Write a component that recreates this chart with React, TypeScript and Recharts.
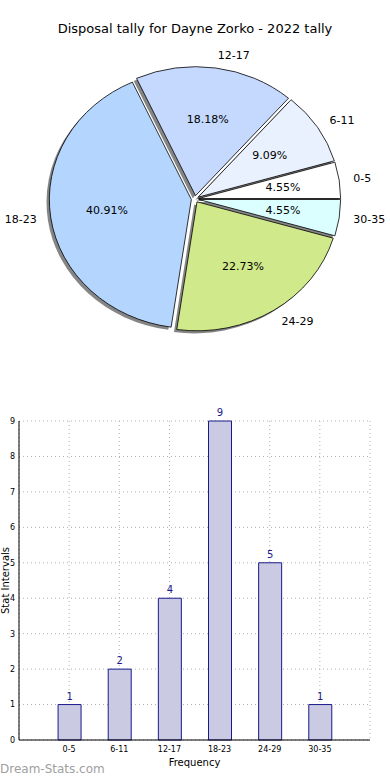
import { PieChart, Pie, BarChart, Bar, XAxis, YAxis, CartesianGrid, LabelList } from 'recharts'

const categories = ['0-5', '6-11', '12-17', '18-23', '24-29', '30-35']
const counts = [1, 2, 4, 9, 5, 1]
const sliceColors = ['#ffffff', '#e9f0fe', '#c5d9fe', '#b4d6fe', '#d0ea8b', '#dbffff']
const yTicks = [0, 1, 2, 3, 4, 5, 6, 7, 8, 9]
const xTicks = [0, 1, 2, 3, 4, 5]

const pieData = categories.map((name, i) => ({ name, value: counts[i], fill: sliceColors[i] }))
const barData = categories.map((name, i) => ({ idx: i, name, value: counts[i] }))

const FONT = '"DejaVu Sans", sans-serif'
// pie is squashed vertically like the original (non-square axes)
const Y_SCALE = 129 / 142
const EXPLODE = 0.026
const SHADOW = 0.02
const RAD = Math.PI / 180

function wedgePath(cx: number, cy: number, rx: number, ry: number, a0: number, a1: number) {
  const x0 = cx + rx * Math.cos(a0 * RAD)
  const y0 = cy - ry * Math.sin(a0 * RAD)
  const x1 = cx + rx * Math.cos(a1 * RAD)
  const y1 = cy - ry * Math.sin(a1 * RAD)
  const large = Math.abs(a1 - a0) > 180 ? 1 : 0
  return `M${cx},${cy} L${x0},${y0} A${rx},${ry} 0 ${large} 0 ${x1},${y1} Z`
}

function explodedCenter(p: any) {
  const rx = p.outerRadius
  const ry = p.outerRadius * Y_SCALE
  return {
    x: p.cx + EXPLODE * rx * Math.cos(p.midAngle * RAD),
    y: p.cy - EXPLODE * ry * Math.sin(p.midAngle * RAD),
    rx,
    ry,
  }
}

const ShadowShape = (p: any) => {
  const c = explodedCenter(p)
  return (
    <path
      d={wedgePath(c.x - SHADOW * c.rx, c.y + SHADOW * c.ry, c.rx, c.ry, p.startAngle, p.endAngle)}
      fill="#707070"
      fillOpacity={0.85}
      stroke="none"
    />
  )
}

const WedgeShape = (p: any) => {
  const c = explodedCenter(p)
  return (
    <path
      d={wedgePath(c.x, c.y, c.rx, c.ry, p.startAngle, p.endAngle)}
      fill={p.fill}
      stroke="#000"
      strokeWidth={0.8}
    />
  )
}

const renderPieLabel = (p: any) => {
  const c = explodedCenter(p)
  const cos = Math.cos(p.midAngle * RAD)
  const sin = Math.sin(p.midAngle * RAD)
  return (
    <g>
      <text
        x={c.x + 0.6 * c.rx * cos}
        y={c.y - 0.6 * c.ry * sin}
        textAnchor="middle"
        dominantBaseline="central"
        fontSize={11}
        fontFamily={FONT}
        fill="#000"
      >
        {(p.percent * 100).toFixed(2)}%
      </text>
      <text
        x={c.x + 1.1 * c.rx * cos}
        y={c.y - 1.1 * c.ry * sin}
        textAnchor={cos >= 0 ? 'start' : 'end'}
        dominantBaseline="central"
        fontSize={11}
        fontFamily={FONT}
        fill="#000"
      >
        {p.name}
      </text>
    </g>
  )
}

const YAxisTitle = (props: any) => {
  const vb = props.viewBox || {}
  const cy = vb.y + vb.height / 2
  return (
    <text
      x={5}
      y={cy}
      transform={`rotate(-90, 5, ${cy})`}
      textAnchor="middle"
      dominantBaseline="central"
      fontSize={10}
      fontFamily={FONT}
      fill="#000"
    >
      Stat Intervals
    </text>
  )
}

export default function App() {
  return (
    <div style={{ position: 'absolute', top: 0, left: 0, width: 390, height: 780, background: '#fff', fontFamily: FONT }}>
      <div style={{ position: 'absolute', top: 21, left: 0, width: 390, textAlign: 'center', fontSize: 13, color: '#000' }}>
        Disposal tally for Dayne Zorko - 2022 tally
      </div>
      <div style={{ position: 'absolute', top: 0, left: 0 }}>
        <PieChart width={390} height={380} margin={{ top: 0, right: 0, bottom: 0, left: 0 }}>
          <Pie
            data={pieData}
            dataKey="value"
            nameKey="name"
            cx={195}
            cy={199}
            outerRadius={142}
            startAngle={0}
            endAngle={360}
            stroke="none"
            shape={ShadowShape}
            isAnimationActive={false}
          />
          <Pie
            data={pieData}
            dataKey="value"
            nameKey="name"
            cx={195}
            cy={199}
            outerRadius={142}
            startAngle={0}
            endAngle={360}
            shape={WedgeShape}
            label={renderPieLabel}
            labelLine={false}
            isAnimationActive={false}
          />
        </PieChart>
      </div>
      <div style={{ position: 'absolute', top: 380, left: 0 }}>
        <BarChart width={390} height={400} data={barData} margin={{ top: 41, right: 20, left: 0, bottom: 0 }}>
          <CartesianGrid stroke="#b0b0b0" strokeDasharray="1 3" />
          <XAxis
            dataKey="idx"
            type="number"
            domain={[-1, 6]}
            ticks={xTicks}
            tickFormatter={(v: number) => categories[v]}
            height={40}
            tickSize={5}
            tickMargin={1}
            tickLine={false}
            axisLine={{ stroke: '#000' }}
            tick={{ fontSize: 8, fill: '#000', fontFamily: FONT }}
            interval={0}
            label={{ value: 'Frequency', position: 'insideBottom', offset: 14, fontSize: 10, fill: '#000', fontFamily: FONT }}
          />
          <XAxis xAxisId="top" orientation="top" type="number" domain={[-1, 6]} height={0} tick={false} axisLine={{ stroke: '#000' }} />
          <YAxis
            domain={[0, 9]}
            ticks={yTicks}
            width={19}
            tickSize={4}
            tickMargin={0}
            tickLine={false}
            axisLine={{ stroke: '#000' }}
            tick={{ fontSize: 8, fill: '#000', fontFamily: FONT }}
            interval={0}
            label={<YAxisTitle />}
          />
          <YAxis yAxisId="right" orientation="right" domain={[0, 9]} width={0} tick={false} axisLine={{ stroke: '#000' }} />
          <Bar dataKey="value" barSize={23} fill="#cacae2" stroke="#1a1a8c" strokeWidth={1} isAnimationActive={false}>
            <LabelList dataKey="value" position="top" offset={5} fill="#1a1a8c" fontSize={10} fontFamily={FONT} />
          </Bar>
        </BarChart>
      </div>
      <div style={{ position: 'absolute', top: 762, left: 0, fontSize: 12, color: '#a0a0a0' }}>
        Dream-Stats.com
      </div>
    </div>
  )
}
